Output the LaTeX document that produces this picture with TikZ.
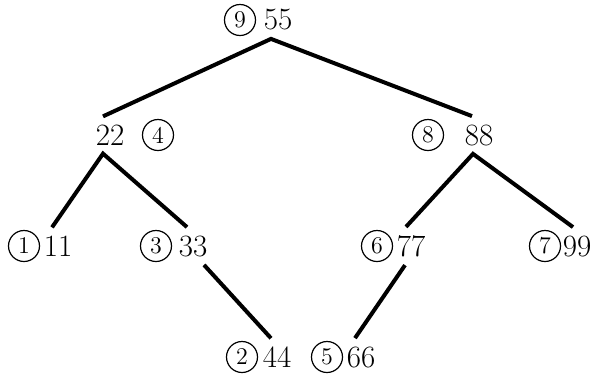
\documentclass[tikz,border=0pt]{standalone}
\usepackage{tikz}

\tikzset{
    num/.style={inner sep=4pt, font=\fontsize{15.5}{18}\selectfont},
    order/.style={draw, circle, line width=0.6pt, inner sep=0pt,
        minimum size=15.5pt, font=\fontsize{12}{12}\selectfont},
    branch/.style={line width=2pt}
}

\begin{document}
\begin{tikzpicture}[x=0.5pt, y=-0.5pt]

\useasboundingbox (0,0) rectangle (600,376);

% Root
\node[num] (n55) at (278,20) {55};
\node[order] (c9) at (240,20) {9};

% Second level
\node[num] (n22) at (110,135) {22};
\node[order] (c4) at (158,135) {4};
\node[num] (n88) at (479,135) {88};
\node[order] (c8) at (428,135) {8};

% Third level
\node[num] (n11) at (58,246) {11};
\node[order] (c1) at (24,246) {1};
\node[num] (n33) at (193,246) {33};
\node[order] (c3) at (156,246) {3};
\node[num] (n77) at (411,246) {77};
\node[order] (c6) at (377,246) {6};
\node[num] (n99) at (577,246) {99};
\node[order] (c7) at (545,246) {7};

% Leaves
\node[num] (n44) at (277,357) {44};
\node[order] (c2) at (242,357) {2};
\node[num] (n66) at (361,357) {66};
\node[order] (c5) at (327,357) {5};

% Branches
\draw[branch] ([xshift=-3.5pt]n22.north) -- ([xshift=-3.5pt]n55.south)
    -- ([xshift=-3.5pt]n88.north);
\draw[branch] ([xshift=-3pt]n11.north) -- ([xshift=-3.5pt]n22.south)
    -- ([xshift=-3pt]n33.north);
\draw[branch] ([xshift=-2.5pt]n77.north) -- ([xshift=-3pt]n88.south)
    -- ([xshift=-2pt]n99.north);
\draw[branch] ([xshift=5.5pt]n33.south) -- ([xshift=-3pt]n44.north);
\draw[branch] ([xshift=-3pt]n77.south) -- ([xshift=-3pt]n66.north);

\end{tikzpicture}
\end{document}
